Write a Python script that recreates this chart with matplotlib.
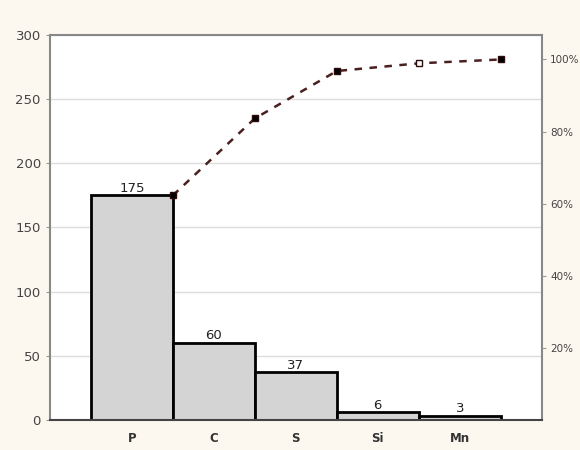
import numpy as np
import matplotlib.pyplot as plt

# Pareto chart of defects by element
elements = ['P', 'C', 'S', 'Si', 'Mn']
counts = [175, 60, 37, 6, 3]
pct_ticks = [20, 40, 60, 80, 100]

total = sum(counts)
cum = np.cumsum(counts)
x = np.arange(len(elements))

fig = plt.figure(figsize=(5.8, 4.5), dpi=100, facecolor='#fdf8ef')
ax = fig.add_axes([0.086, 0.067, 0.848, 0.855])
ax.set_facecolor('white')

ax.bar(x, counts, width=1.0, color='#d4d4d4', edgecolor='black', linewidth=2, zorder=2)
for xi, c in zip(x, counts):
    ax.text(xi, c + 0.5, str(c), ha='center', va='bottom', fontsize=9.5, color='#222222')

ax.set_xlim(-1, 5)
ax.set_ylim(0, 300)
ax.set_yticks(range(0, 301, 50))
ax.set_xticks(x)
ax.set_xticklabels(elements, fontsize=8.5, color='#333333', fontweight='bold')
ax.tick_params(axis='y', labelsize=9.5, labelcolor='#444444', length=3, color='#999999')
ax.tick_params(axis='x', length=0, pad=9)
ax.grid(axis='y', color='#dddddd', linewidth=1, zorder=0)
for s in ['left', 'top', 'right']:
    ax.spines[s].set_color('#888888')
    ax.spines[s].set_linewidth(1.5)
ax.spines['bottom'].set_color('#444444')
ax.spines['bottom'].set_linewidth(1.5)

# cumulative percentage on the right axis
ax2 = ax.twinx()
ax2.set_ylim(0, 300 / total * 100)
pct = cum / total * 100
xe = x + 0.5
ax2.plot(xe, pct, linestyle=(0, (3, 3)), color='#4a1f1f', linewidth=1.8, zorder=3)
fills = ['black', 'black', 'black', 'white', 'black']
for xv, pv, fc in zip(xe, pct, fills):
    ax2.plot(xv, pv, marker='s', markersize=5, markerfacecolor=fc,
             markeredgecolor='#2a0a0a', linestyle='none', zorder=4)
ax2.set_yticks(pct_ticks)
ax2.set_yticklabels([f'{p}%' for p in pct_ticks])
ax2.tick_params(axis='y', labelsize=7.5, labelcolor='#444444', length=3, color='#999999', pad=3)
for s in ax2.spines.values():
    s.set_visible(False)

fig.savefig('out.png', dpi=100, facecolor=fig.get_facecolor())
